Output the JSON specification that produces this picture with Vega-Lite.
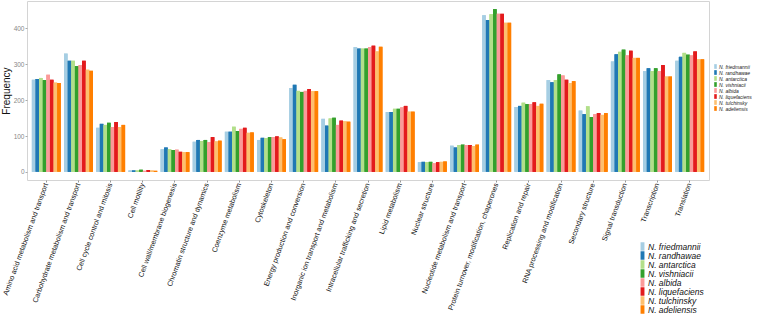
{
  "$schema": "https://vega.github.io/schema/vega-lite/v6.json",
  "autosize": "none",
  "padding": {"left": 27, "top": 1, "right": 55, "bottom": 137},
  "width": 682,
  "height": 179,
  "config": {
    "font": "Liberation Sans",
    "view": {"stroke": "#d4d4d4", "strokeWidth": 1},
    "axis": {"grid": false}
  },
  "datasets": {
    "cog": [
      {"c": "Amino acid metabolism and transport", "v": [257,259,262,256,271,257,249,248]},
      {"c": "Carbohydrate metabolism and transport", "v": [330,310,310,295,298,310,285,282]},
      {"c": "Cell cycle control and mitosis", "v": [123,134,131,137,125,139,125,131]},
      {"c": "Cell motility", "v": [4,4,4,6,3,5,4,3]},
      {"c": "Cell wall/membrane biogenesis", "v": [63,68,63,61,62,56,55,55]},
      {"c": "Chromatin structure and dynamics", "v": [84,89,86,89,83,97,85,87]},
      {"c": "Coenzyme metabolism", "v": [112,112,126,114,120,123,109,110]},
      {"c": "Cytoskeleton", "v": [89,95,94,97,97,99,96,91]},
      {"c": "Energy production and conversion", "v": [234,243,226,223,226,231,225,225]},
      {"c": "Inorganic ion transport and metabolism", "v": [148,129,149,151,131,143,141,140]},
      {"c": "Intracellular trafficking and secretion", "v": [348,344,344,344,348,352,336,349]},
      {"c": "Lipid metabolism", "v": [167,167,176,176,180,184,168,168]},
      {"c": "Nuclear structure", "v": [27,28,27,28,24,27,28,29]},
      {"c": "Nucleotide metabolism and transport", "v": [73,68,75,76,75,75,72,76]},
      {"c": "Protein turnover, modification, chaperones", "v": [437,424,440,454,441,441,416,416]},
      {"c": "Replication and repair", "v": [181,184,193,189,189,194,184,190]},
      {"c": "RNA processing and modification", "v": [256,250,256,272,269,257,248,253]},
      {"c": "Secondary structure", "v": [171,161,183,153,161,164,159,164]},
      {"c": "Signal transduction", "v": [308,328,335,341,325,338,318,318]},
      {"c": "Transcription", "v": [281,289,281,289,281,298,266,266]},
      {"c": "Translation", "v": [310,321,332,327,325,336,314,314]}
    ]
  },
  "data": {"name": "cog"},
  "transform": [
    {"flatten": ["v"], "as": ["value"]},
    {"window": [{"op": "row_number", "as": "idx"}], "groupby": ["c"]},
    {"lookup": "idx", "from": {"data": {"values": [
      {"idx": 1, "s": "N. friedmannii"},
      {"idx": 2, "s": "N. randhawae"},
      {"idx": 3, "s": "N. antarctica"},
      {"idx": 4, "s": "N. vishniacii"},
      {"idx": 5, "s": "N. albida"},
      {"idx": 6, "s": "N. liquefaciens"},
      {"idx": 7, "s": "N. tulchinsky"},
      {"idx": 8, "s": "N. adeliensis"}
    ]}, "key": "idx", "fields": ["s"]}}
  ],
  "encoding": {
    "x": {
      "field": "c", "type": "nominal", "sort": null,
      "scale": {"paddingInner": 0.1, "paddingOuter": 0.15},
      "axis": {
        "title": null, "labelAngle": -70, "labelFontSize": 7.2, "labelColor": "#111111",
        "labelLimit": 300, "labelOverlap": false, "domain": false,
        "ticks": true, "tickSize": 2, "tickColor": "#999999", "labelPadding": 1
      }
    },
    "xOffset": {
      "field": "s", "type": "nominal", "sort": null,
      "scale": {"paddingInner": 0, "paddingOuter": 0}
    },
    "y": {
      "field": "value", "type": "quantitative",
      "scale": {"domain": [-22.7, 476.7], "nice": false, "zero": false},
      "axis": {
        "title": "Frequency", "titleFontSize": 10, "titleFontWeight": "normal",
        "titleColor": "#111111", "titlePadding": 2,
        "values": [0, 100, 200, 300, 400],
        "labelFontSize": 6.5, "labelColor": "#888888", "domain": false,
        "tickSize": 2, "tickColor": "#aaaaaa", "labelPadding": 1
      }
    },
    "y2": {"datum": 0}
  },
  "layer": [
    {
      "mark": {"type": "bar"},
      "encoding": {
        "color": {
          "field": "s", "type": "nominal", "sort": null,
          "scale": {"range": ["#a6cee3", "#1f78b4", "#b2df8a", "#33a02c", "#fb9a99", "#e31a1c", "#fdbf6f", "#ff7f00"]},
          "legend": {
            "title": null, "orient": "none", "legendX": 686, "legendY": 63,
            "labelFontSize": 5, "labelFontStyle": "italic", "labelColor": "#222222",
            "symbolType": "M-0.55,-1H0.55V1H-0.55Z", "symbolSize": 22,
            "symbolStrokeWidth": 0, "rowPadding": 0,
            "labelOffset": 1, "padding": 0
          }
        }
      }
    },
    {
      "mark": {"type": "bar"},
      "encoding": {
        "color": {
          "field": "s", "type": "nominal", "sort": null,
          "scale": {"range": ["#a6cee3", "#1f78b4", "#b2df8a", "#33a02c", "#fb9a99", "#e31a1c", "#fdbf6f", "#ff7f00"]},
          "legend": {
            "title": null, "orient": "none", "legendX": 611, "legendY": 241,
            "labelFontSize": 8.5, "labelFontStyle": "italic", "labelColor": "#111111",
            "symbolType": "M-0.46,-1H0.46V1H-0.46Z", "symbolSize": 72,
            "symbolStrokeWidth": 0, "rowPadding": 0,
            "labelOffset": 1, "padding": 0
          }
        }
      }
    }
  ],
  "resolve": {"scale": {"color": "independent"}}
}
